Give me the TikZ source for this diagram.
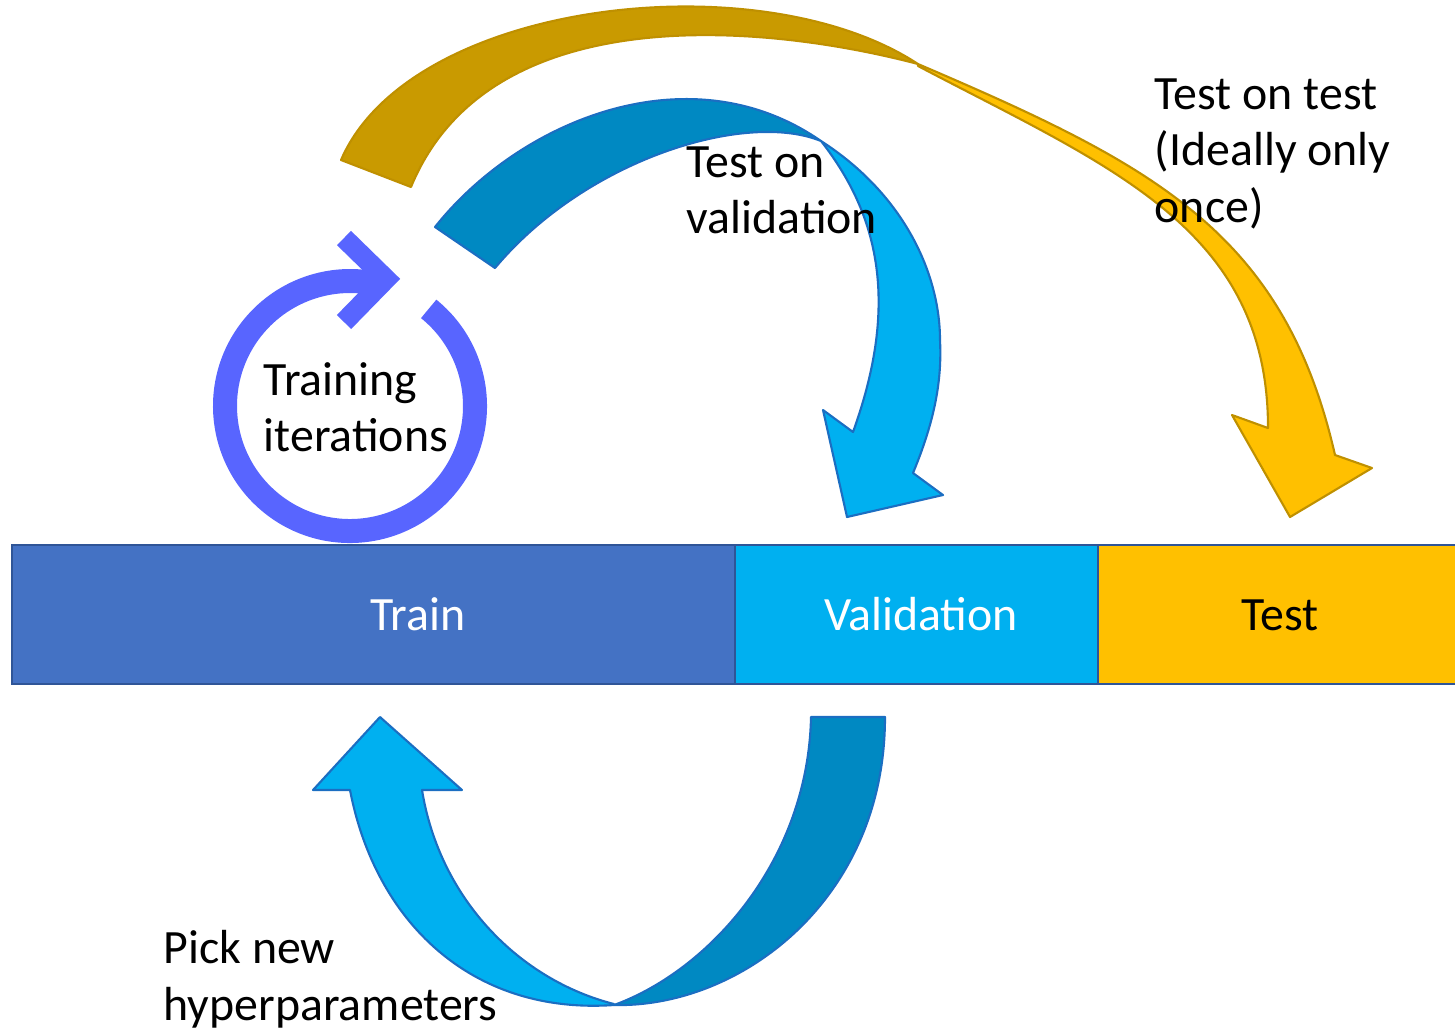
\documentclass[tikz,border=0pt]{standalone}
\usepackage{fontspec}
\setmainfont{Carlito}
\usepackage{tikz}
\newcommand{\ringwidth}{2.4mm}
\newcommand{\chevwidth}{2mm}
\newcommand{\labelfont}{\fontsize{13.6pt}{16.2pt}\selectfont}
\definecolor{trainBlue}{HTML}{4472C4}
\definecolor{valBlue}{HTML}{00B0F0}
\definecolor{testGold}{HTML}{FFC000}
\definecolor{backGold}{HTML}{C99A00}
\definecolor{backTeal}{HTML}{0089C2}
\definecolor{blueEdge}{HTML}{1B6EC2}
\definecolor{goldEdge}{HTML}{BF9000}
\definecolor{barEdge}{HTML}{2F5597}
\definecolor{loopBlue}{HTML}{5865FF}
\tikzset{
  font=\labelfont,
  part/.style={draw=barEdge,line width=0.7pt},
  band/.style={draw=blueEdge,line width=0.6pt,line join=round},
  gband/.style={draw=goldEdge,line width=0.6pt,line join=round},
  loop/.style={draw=loopBlue,line width=\ringwidth},
  note/.style={anchor=base west,inner sep=0},
  tag/.style={anchor=base,inner sep=0},
}

\begin{document}
\begin{tikzpicture}[x=0.01cm,y=-0.01cm]
    \path [use as bounding box] (0,0) rectangle (1455,1029);
    \clip (0,0) rectangle (1455,1029);

    \path [gband,fill=backGold] (341,160) .. controls (410,0) and (760,-40) .. (918,64)
      .. controls (770,25) and (490,-5) .. (411,187) -- cycle;
    \path [gband,fill=testGold] (918,64) .. controls (1154,165) and (1284,232) .. (1335,455)
      -- (1372,468) -- (1290,517) -- (1232,415) -- (1268,428)
      .. controls (1268,228) and (1110,167) .. (918,66) -- cycle;

    \path [band,fill=backTeal] (435,227) .. controls (520,120) and (690,50) .. (821,141)
      .. controls (745,110) and (585,160) .. (495,268) -- cycle;
    \path [band,fill=valBlue] (821,141) .. controls (883,220) and (897,310) .. (853,432)
      -- (823,410) -- (847,517) -- (943,495) -- (913,473)
      .. controls (935,420) and (942,380) .. (940,340)
      .. controls (940,275) and (905,195) .. (821,141) -- cycle;

    \path [band,fill=backTeal] (811,717) -- (885,717) .. controls (885,900) and (740,1008) .. (614,1005)
      .. controls (710,970) and (808,860) .. (811,717) -- cycle;
    \path [band,fill=valBlue] (614,1005) .. controls (470,1015) and (375,920) .. (350,790)
      -- (313,790) -- (380,717) -- (462,790) -- (422,790)
      .. controls (440,900) and (520,980) .. (614,1004) -- cycle;

    \path [loop] (350,406) ++(-51:125) arc (-51:286:125);
    \path [loop,line width=\chevwidth,line join=miter] (344,238) -- (386,279) -- (344,322);

    \path [part,fill=trainBlue] (12,545) rectangle (735,684);
    \path [part,fill=valBlue] (735,545) rectangle (1098,684);
    \path [part,fill=testGold] (1098,545) rectangle (1470,684);

    \node (train) [tag,text=white] at (418,630) {Train};
    \node (validation) [tag,text=white] at (921,630) {Validation};
    \node (test) [tag] at (1280,630) {Test};

    \node (iterations) [note] at (263,395) {\begin{tabular}[t]{@{}l@{}}Training\\iterations\end{tabular}};
    \node (onval) [note] at (686,177) {\begin{tabular}[t]{@{}l@{}}Test on\\validation\end{tabular}};
    \node (ontest) [note] at (1154,109) {\begin{tabular}[t]{@{}l@{}}Test on test\\(Ideally only\\once)\end{tabular}};
    \node (hyper) [note] at (163,963) {\begin{tabular}[t]{@{}l@{}}Pick new\\hyperparameters\end{tabular}};
\end{tikzpicture}
\end{document}
